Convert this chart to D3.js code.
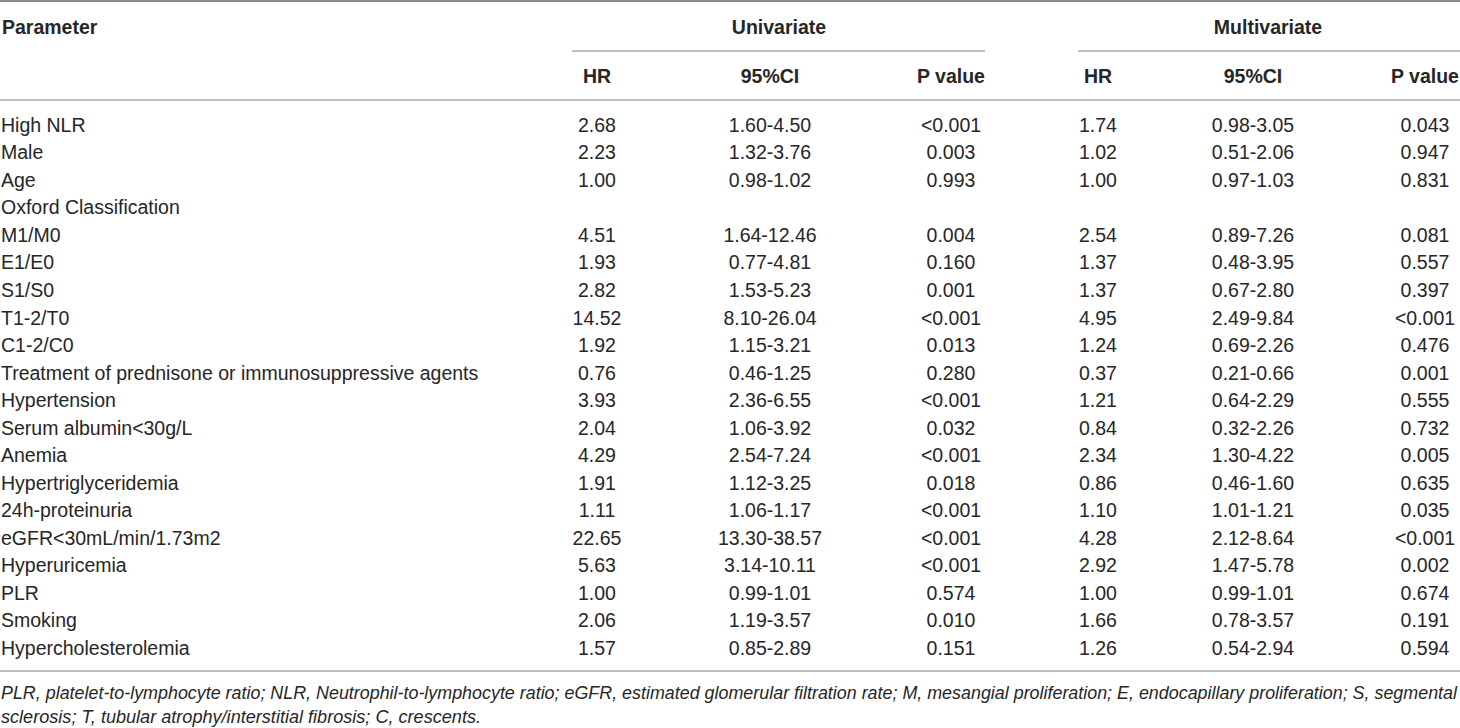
<!DOCTYPE html>
<html>
<head>
<meta charset="utf-8">
<script src="https://cdn.jsdelivr.net/npm/d3@7"></script>
<style>
  body { margin: 0; background: #fff; }
  svg text { font-family: "Liberation Sans", Arial, Helvetica, sans-serif; fill: #262626; }
</style>
</head>
<body>
<div id="table"></div>
<script>
// table content
const parameters = [
  "High NLR", "Male", "Age", "Oxford Classification", "M1/M0", "E1/E0", "S1/S0",
  "T1-2/T0", "C1-2/C0", "Treatment of prednisone or immunosuppressive agents",
  "Hypertension", "Serum albumin<30g/L", "Anemia", "Hypertriglyceridemia",
  "24h-proteinuria", "eGFR<30mL/min/1.73m2", "Hyperuricemia", "PLR", "Smoking",
  "Hypercholesterolemia"
];
const uniHR = ["2.68","2.23","1.00","","4.51","1.93","2.82","14.52","1.92","0.76",
  "3.93","2.04","4.29","1.91","1.11","22.65","5.63","1.00","2.06","1.57"];
const uniCI = ["1.60-4.50","1.32-3.76","0.98-1.02","","1.64-12.46","0.77-4.81","1.53-5.23",
  "8.10-26.04","1.15-3.21","0.46-1.25","2.36-6.55","1.06-3.92","2.54-7.24","1.12-3.25",
  "1.06-1.17","13.30-38.57","3.14-10.11","0.99-1.01","1.19-3.57","0.85-2.89"];
const uniP = ["<0.001","0.003","0.993","","0.004","0.160","0.001","<0.001","0.013","0.280",
  "<0.001","0.032","<0.001","0.018","<0.001","<0.001","<0.001","0.574","0.010","0.151"];
const multiHR = ["1.74","1.02","1.00","","2.54","1.37","1.37","4.95","1.24","0.37",
  "1.21","0.84","2.34","0.86","1.10","4.28","2.92","1.00","1.66","1.26"];
const multiCI = ["0.98-3.05","0.51-2.06","0.97-1.03","","0.89-7.26","0.48-3.95","0.67-2.80",
  "2.49-9.84","0.69-2.26","0.21-0.66","0.64-2.29","0.32-2.26","1.30-4.22","0.46-1.60",
  "1.01-1.21","2.12-8.64","1.47-5.78","0.99-1.01","0.78-3.57","0.54-2.94"];
const multiP = ["0.043","0.947","0.831","","0.081","0.557","0.397","<0.001","0.476","0.001",
  "0.555","0.732","0.005","0.635","0.035","<0.001","0.002","0.674","0.191","0.594"];

const groups = ["Univariate", "Multivariate"];
const subHeaders = ["HR", "95%CI", "P value", "HR", "95%CI", "P value"];
const footnote = [
  "PLR, platelet-to-lymphocyte ratio; NLR, Neutrophil-to-lymphocyte ratio; eGFR, estimated glomerular filtration rate; M, mesangial proliferation; E, endocapillary proliferation; S, segmental",
  "sclerosis; T, tubular atrophy/interstitial fibrosis; C, crescents."
];

const width = 1460, height = 728;
const svg = d3.select("#table").append("svg")
    .attr("width", width)
    .attr("height", height);

const columns = [uniHR, uniCI, uniP, multiHR, multiCI, multiP];

// column centres and row centres
const x = d3.scaleOrdinal()
    .domain(d3.range(6))
    .range([597, 770, 951, 1098, 1253, 1425]);
const y = d3.scalePoint()
    .domain(d3.range(parameters.length))
    .range([125, 648]);
const groupX = d3.scaleOrdinal().domain(groups).range([779, 1268]);
const groupSpan = d3.scaleOrdinal().domain(groups).range([[572, 985], [1078, 1460]]);

const fs = 19.5;

// rules
const rule = (y0, x0, x1, w, c) => svg.append("line")
    .attr("x1", x0).attr("x2", x1).attr("y1", y0).attr("y2", y0)
    .attr("stroke", c).attr("stroke-width", w);
rule(1, 0, width, 2, "#8a8a8a");
rule(100, 0, width, 1.5, "#aaa");
rule(671, 0, width, 1.5, "#aaa");
groups.forEach(g => rule(51, groupSpan(g)[0], groupSpan(g)[1], 1.5, "#aaa"));

// headers
svg.append("text")
    .attr("x", 2).attr("y", 27).attr("dy", "0.35em")
    .attr("font-size", fs).attr("font-weight", "bold")
    .text("Parameter");

svg.selectAll("text.group")
    .data(groups)
    .enter().append("text")
    .attr("class", "group")
    .attr("x", d => groupX(d)).attr("y", 27).attr("dy", "0.35em")
    .attr("text-anchor", "middle")
    .attr("font-size", fs).attr("font-weight", "bold")
    .text(d => d);

svg.selectAll("text.sub")
    .data(subHeaders)
    .enter().append("text")
    .attr("class", "sub")
    .attr("x", (d, i) => x(i)).attr("y", 76).attr("dy", "0.35em")
    .attr("text-anchor", "middle")
    .attr("font-size", fs).attr("font-weight", "bold")
    .text(d => d);

// body
svg.selectAll("text.param")
    .data(parameters)
    .enter().append("text")
    .attr("class", "param")
    .attr("x", 1).attr("y", (d, i) => y(i)).attr("dy", "0.35em")
    .attr("font-size", fs)
    .text(d => d);

columns.forEach((col, c) => {
    svg.selectAll(`text.col${c}`)
        .data(col)
        .enter().append("text")
        .attr("class", `col${c}`)
        .attr("x", x(c)).attr("y", (d, i) => y(i)).attr("dy", "0.35em")
        .attr("text-anchor", "middle")
        .attr("font-size", fs)
        .text(d => d);
});

// footnote (first line justified to full width)
const noteLen = [1456, 480];
svg.selectAll("text.note")
    .data(footnote)
    .enter().append("text")
    .attr("class", "note")
    .attr("x", 1).attr("y", (d, i) => 693 + i * 24).attr("dy", "0.35em")
    .attr("font-size", 17.5).attr("font-style", "italic")
    .attr("textLength", (d, i) => noteLen[i])
    .attr("lengthAdjust", "spacingAndGlyphs")
    .text(d => d);
</script>
</body>
</html>
